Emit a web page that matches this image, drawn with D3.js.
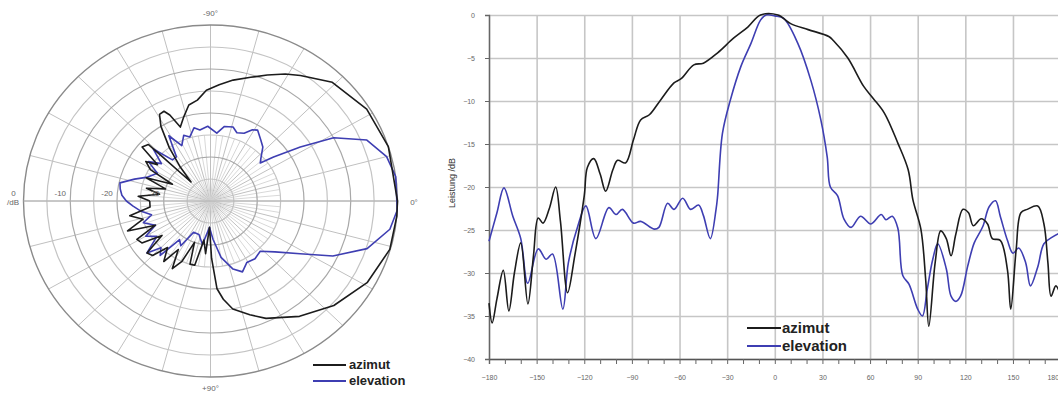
<!DOCTYPE html>
<html>
<head>
<meta charset="utf-8">
<script src="https://cdn.jsdelivr.net/npm/d3@7"></script>
<style>
  body { margin: 0; background: #fff; }
  svg { display: block; font-family: "Liberation Sans", Arial, sans-serif; }
</style>
</head>
<body>
<svg id="chart" width="1058" height="396"></svg>
<script>
// polar pattern, [angle deg, level dB]
const polarAzimut = [
  [-180, -27], [-176, -24.5], [-172, -29], [-168, -26], [-164, -30], [-159, -25.3], [-155, -31],
  [-151, -25.3], [-147, -23.5], [-144, -26], [-140, -20.9], [-136, -21.5], [-134, -34], [-130, -30],
  [-126, -25], [-122, -20], [-119, -17.5], [-116, -17.3], [-114, -18.6], [-111, -22], [-107, -20.2],
  [-102, -17.7], [-97, -16.9], [-92, -14.8], [-86, -13.5], [-80, -12.1], [-73, -10.6], [-67, -8.9],
  [-61, -7], [-56, -5.6], [-46, -2.5], [-32, -0.6], [-18, 0], [0, 0], [5, 0], [16, -0.1], [29, -1.7],
  [42, -4.5], [54, -7.6], [66, -10.8], [72, -12.8], [79, -15], [83, -17.5], [86, -20], [89, -27],
  [92, -34], [95, -28], [99, -31], [103, -25], [107, -25], [110, -30], [114, -25], [118, -22.6],
  [122, -27], [126, -23], [131, -26], [135, -22.5], [139, -22], [143, -27], [147, -22.5], [151, -22],
  [155, -27], [159, -21], [164, -25], [169, -22.4], [174, -27], [180, -27]
];
const polarElevation = [
  [-180, -22], [-176, -21], [-172, -20.5], [-168, -20.2], [-163, -23], [-158, -25.5], [-151, -27],
  [-146, -24], [-141, -26.5], [-136, -23], [-131, -27.6], [-126, -27.6], [-121, -22.7], [-116, -26],
  [-111, -24], [-107, -24.8], [-102, -23], [-98, -23.7], [-92, -23], [-85, -24.5], [-80, -22.8],
  [-74, -22.5], [-70, -23.5], [-65, -23], [-61, -21.5], [-58, -21], [-52, -22.5], [-47.6, -23.4],
  [-42, -25.5], [-39, -26.3], [-36.6, -23.2], [-32.6, -17.2], [-28.6, -10], [-22.5, -3.8], [-15, -1],
  [-8, 0], [3, 0], [9.5, -1.1], [17.9, -4.8], [25.5, -11], [32, -17.4], [40, -22], [47, -24.4],
  [54, -23.8], [61, -24], [67, -22.5], [72.7, -23.8], [80, -27], [86.5, -31.3], [92, -34], [100, -30],
  [108, -32], [117, -32], [122, -28], [127, -29], [131, -23.6], [135, -25], [139, -22], [145, -26],
  [150, -24], [155, -27], [161, -24.8], [166, -27], [171, -25], [176, -23.4], [180, -22]
];
const polarRings = [-35, -30, -25, -20, -15, -10, -5, 0];
const polarRingLabels = ['0', '-10', '-20', '-30'];

// cartesian pattern
const azimutDeg = [-180, -178, -175, -171, -167.5, -164, -160, -155.5, -152, -149, -146, -142, -138, -135,
  -130.5, -126, -120, -118, -114, -110, -106.5, -102, -99, -94, -89, -84.5, -79, -72, -63.5, -59, -51,
  -45, -36, -26, -17, -9, 2, 10, 21, 34, 37, 46, 56, 62, 69, 77.5, 84, 87, 92, 95, 97, 101, 104.5, 108,
  111, 114, 118.5, 122, 125, 130, 134, 137, 142, 146.5, 148.6, 152, 155, 159, 165.6, 169.5, 172, 174,
  177, 180];
const azimutDb = [-33.5, -35.8, -33, -29.7, -34.4, -30, -26.5, -33.6, -28, -23.6, -24.2, -22.5, -20, -24,
  -32.3, -28, -21, -17.7, -16.7, -18.5, -20.5, -18, -16.9, -17.2, -14.5, -12.2, -11.6, -9.9, -7.9, -7.4,
  -5.8, -5.6, -4.4, -2.7, -1.4, 0, 0, -1, -1.7, -2.5, -3, -5, -8.3, -9.7, -11.4, -14.9, -18, -21.5,
  -24.9, -30.7, -36.2, -28.8, -25.1, -26, -28, -25.5, -22.6, -23, -24.5, -23.7, -24.3, -26, -26.2,
  -29.6, -34.2, -27.3, -23, -22.6, -22.2, -24.3, -28.8, -32.7, -31.5, -32.6];
const elevationDeg = [-180, -175, -170.6, -165, -160, -155.6, -149, -144, -140, -133.5, -130, -124, -119,
  -112.7, -104.5, -100, -96, -89, -84.5, -76, -73, -67.5, -63.5, -58, -53, -48, -45, -40.6, -37, -36,
  -33, -28, -21.4, -15, -9, -5.5, 0, 5.6, 14.5, 22.7, 29, 33, 35, 39.5, 43.5, 48, 54, 60.5, 67, 70, 74,
  77.5, 80.6, 84.5, 90, 93, 96, 99.5, 102.6, 108, 111, 114, 117, 121.5, 125.6, 131, 135, 139, 142,
  146.5, 150, 153.6, 158, 161, 165.6, 169.5, 175, 180];
const elevationDb = [-26.3, -23, -20.1, -23.4, -26, -31.2, -27.2, -28.4, -27.8, -34.2, -28.8, -24.5, -22.2,
  -26, -22.4, -23.2, -22.6, -24.2, -24, -24.9, -24.7, -21.9, -22.6, -21.3, -22.6, -22.1, -23.3, -26,
  -22.6, -21, -13.8, -9.9, -6, -3.3, -0.6, 0, -0.1, -0.4, -3.3, -7.6, -12.2, -16.5, -20, -21, -23.7,
  -24.7, -23.4, -24.3, -23.2, -23.8, -23.4, -24.8, -30.3, -31.3, -34.2, -35, -31.9, -28.4, -26.6,
  -29.5, -32.7, -33.3, -32.7, -29.2, -26.5, -24.6, -22.3, -21.6, -23.4, -26.2, -27.7, -27.1, -28.8,
  -31.5, -29.3, -26.6, -25.8, -25.3];
const xTicks = d3.range(-180, 181, 30);
const yTicks = d3.range(-40, 1, 5);

const series = ['azimut', 'elevation'];
const color = d3.scaleOrdinal(series, ['#1c1c1c', '#3e3eb2']);

const svg = d3.select('#chart');

// ---------- polar ----------
const cx = 210.5, cy = 201, rx = 187, ry = 176;
const r = d3.scaleLinear().domain([-40, 0]).range([0, 1]).clamp(true);
const pt = (a, db) => {
  const t = a * Math.PI / 180;
  return [cx + rx * r(db) * Math.cos(t), cy + ry * r(db) * Math.sin(t)];
};

const polar = svg.append('g');

// spokes: every 15 deg full length, finer ones near the centre
polar.append('g')
  .selectAll('line')
  .data(d3.range(0, 360, 5))
  .join('line')
  .attr('x1', cx).attr('y1', cy)
  .attr('x2', (d) => pt(d, d % 15 === 0 ? 0 : -25)[0])
  .attr('y2', (d) => pt(d, d % 15 === 0 ? 0 : -25)[1])
  .attr('stroke', (d) => d % 15 === 0 ? '#c0c0c0' : '#d8d8d8')
  .attr('stroke-width', 1);

polar.append('g')
  .selectAll('ellipse')
  .data(polarRings)
  .join('ellipse')
  .attr('cx', cx).attr('cy', cy)
  .attr('rx', (d) => rx * r(d))
  .attr('ry', (d) => ry * r(d))
  .attr('fill', 'none')
  .attr('stroke', (d) => d === 0 ? '#8a8a8a' : (d % 10 === 0 ? '#a8a8a8' : '#c4c4c4'))
  .attr('stroke-width', (d) => d === 0 ? 1.4 : 1.2);

polar.append('line')
  .attr('x1', pt(180, 0)[0]).attr('x2', pt(0, 0)[0])
  .attr('y1', cy).attr('y2', cy)
  .attr('stroke', '#b0b0b0');

const polarLine = d3.line()
  .x((d) => pt(d[0], d[1])[0])
  .y((d) => pt(d[0], d[1])[1]);

[[polarElevation, 'elevation'], [polarAzimut, 'azimut']].forEach(([data, name]) => {
  polar.append('path')
    .datum(data)
    .attr('d', polarLine)
    .attr('fill', 'none')
    .attr('stroke', color(name))
    .attr('stroke-width', 1.6)
    .attr('stroke-linejoin', 'round');
});

const ptxt = polar.append('g')
  .attr('font-size', 8)
  .attr('fill', '#666')
  .attr('text-anchor', 'middle');
ptxt.append('text').attr('x', cx).attr('y', 16).text('-90°');
ptxt.append('text').attr('x', cx).attr('y', 391).text('+90°');
ptxt.append('text').attr('x', 414).attr('y', 205).text('0°');
ptxt.append('text').attr('x', 13).attr('y', 205).text('/dB');
ptxt.selectAll('.ring')
  .data(polarRingLabels)
  .join('text')
  .attr('class', 'ring')
  .attr('x', (d) => pt(180, +d)[0] - 10)
  .attr('y', 196)
  .text((d) => d);

const plegend = polar.append('g').attr('transform', 'translate(313,369)');
series.forEach((s, i) => {
  plegend.append('line')
    .attr('x1', 0).attr('x2', 33)
    .attr('y1', i * 16 - 4).attr('y2', i * 16 - 4)
    .attr('stroke', color(s)).attr('stroke-width', 2);
  plegend.append('text')
    .attr('x', 36).attr('y', i * 16)
    .attr('font-size', 13).attr('font-weight', 'bold')
    .attr('fill', '#222')
    .text(s);
});

// ---------- cartesian ----------
const x = d3.scaleLinear().domain([-180, 180]).range([489, 1060.6]);
const y = d3.scaleLinear().domain([-40, 0]).range([359, 15]);

const cart = svg.append('g');

cart.append('g')
  .attr('transform', `translate(0,${y(-40)})`)
  .call(d3.axisBottom(x).tickValues(xTicks).tickSize(-(y(-40) - y(0))).tickFormat(''))
  .call((g) => g.select('.domain').remove())
  .call((g) => g.selectAll('line').attr('stroke', '#c6c6c6').attr('stroke-width', 1.6));

cart.append('g')
  .attr('transform', `translate(${x(-180)},0)`)
  .call(d3.axisLeft(y).tickValues(yTicks).tickSize(-(x(180) - x(-180))).tickFormat(''))
  .call((g) => g.select('.domain').remove())
  .call((g) => g.selectAll('line').attr('stroke', '#c6c6c6').attr('stroke-width', 1.6));

// minor ticks
cart.append('g')
  .attr('transform', `translate(0,${y(-40)})`)
  .call(d3.axisBottom(x).tickValues(d3.range(-180, 181, 10)).tickSize(5).tickFormat(''))
  .call((g) => g.select('.domain').attr('stroke', '#555').attr('stroke-width', 1.4))
  .call((g) => g.selectAll('line').attr('stroke', '#666'));

cart.append('g')
  .attr('transform', `translate(0,${y(-40)})`)
  .call(d3.axisBottom(x).tickValues(xTicks).tickSize(0).tickPadding(16).tickFormat(d3.format('d')))
  .call((g) => g.select('.domain').remove())
  .call((g) => g.selectAll('text').attr('font-size', 7).attr('fill', '#666'))
  .call((g) => g.selectAll('.tick').filter((d) => d === 180).select('text').attr('text-anchor', 'end').attr('dx', -2));

cart.append('g')
  .attr('transform', `translate(${x(-180)},0)`)
  .call(d3.axisLeft(y).tickValues(yTicks).tickSize(4).tickPadding(10).tickFormat(d3.format('d')))
  .call((g) => g.select('.domain').attr('stroke', '#666').attr('stroke-width', 1.4))
  .call((g) => g.selectAll('line').attr('stroke', '#666'))
  .call((g) => g.selectAll('text').attr('font-size', 7).attr('fill', '#666'));

cart.append('text')
  .attr('transform', 'translate(455,183) rotate(-90)')
  .attr('text-anchor', 'middle')
  .attr('font-size', 9)
  .attr('fill', '#333')
  .text('Leistung /dB');

const line = d3.line()
  .x((d) => x(d[0]))
  .y((d) => y(d[1]))
  .curve(d3.curveCatmullRom.alpha(0.5));

cart.append('path')
  .datum(d3.zip(elevationDeg, elevationDb))
  .attr('d', line)
  .attr('fill', 'none')
  .attr('stroke', color('elevation'))
  .attr('stroke-width', 1.6);

cart.append('path')
  .datum(d3.zip(azimutDeg, azimutDb))
  .attr('d', line)
  .attr('fill', 'none')
  .attr('stroke', color('azimut'))
  .attr('stroke-width', 1.6);

const clegend = cart.append('g').attr('transform', 'translate(747,333)');
series.forEach((s, i) => {
  clegend.append('line')
    .attr('x1', 0).attr('x2', 34)
    .attr('y1', i * 18 - 5).attr('y2', i * 18 - 5)
    .attr('stroke', color(s)).attr('stroke-width', 2);
  clegend.append('text')
    .attr('x', 35).attr('y', i * 18)
    .attr('font-size', 15).attr('font-weight', 'bold')
    .attr('fill', '#222')
    .text(s);
});
</script>
</body>
</html>
